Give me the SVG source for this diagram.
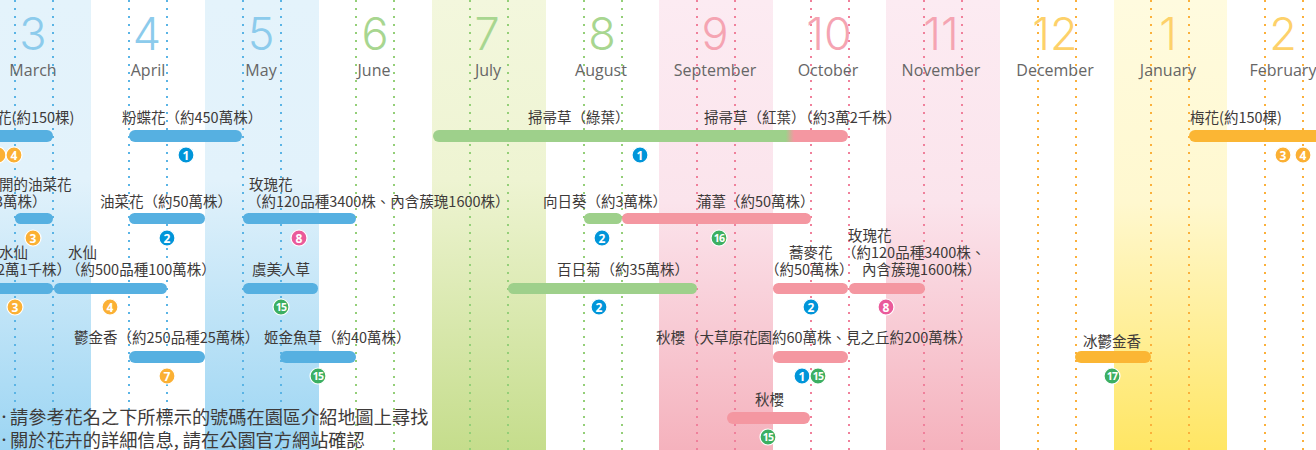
<svg xmlns="http://www.w3.org/2000/svg" width="1316" height="450" viewBox="0 0 1316 450">
<style>
.lb{font-family:"Noto Sans CJK TC","Noto Sans CJK JP",sans-serif;font-size:14.5px;fill:#3e3a39}
.ft{font-family:"Noto Sans CJK TC","Noto Sans CJK JP",sans-serif;font-size:18.2px;fill:#3e3a39}
.bu{font-family:"Noto Sans CJK TC","Noto Sans CJK JP",sans-serif;font-size:12px;fill:#3e3a39}
.mn{font-family:"Open Sans","Noto Sans",sans-serif;font-size:16px;fill:#666;text-anchor:middle}
.num{font-family:Inter,"Open Sans",sans-serif;font-weight:300;font-size:45px;text-anchor:middle}
.nb{fill:#8ccbec}.ng{fill:#a8d690}.np{fill:#f5a4b2}.no{fill:#fdd16a}
.b{fill:#56b0e1}.g{fill:#9ed08b}.p{fill:#f497a1}.o{fill:#fbb634}
.cb{fill:#0095d9}.co{fill:#fbb034}.cg{fill:#3caf62}.cp{fill:#ea5a9a}
.c{stroke:#fff;stroke-width:1.2}
.bt{font-family:"Open Sans","Noto Sans",sans-serif;font-weight:bold;font-size:12px;fill:#fff;text-anchor:middle}
.bt2{font-family:"Open Sans","Noto Sans",sans-serif;font-weight:bold;font-size:10.5px;letter-spacing:-0.8px;fill:#fff;text-anchor:middle}
.dl{stroke-width:2;stroke-dasharray:2 6;fill:none}
.dB{stroke:#5ab4e5}.dG{stroke:#94cf78}.dP{stroke:#f0809b}.dO{stroke:#fbb03b}
</style>
<defs>
<linearGradient id="gBlue" x1="0" y1="0" x2="0" y2="450" gradientUnits="userSpaceOnUse">
<stop offset="0" stop-color="#e4f3fb"/><stop offset="0.4" stop-color="#e2f2fb"/><stop offset="1" stop-color="#9cd5f3"/>
</linearGradient>
<linearGradient id="gGreen" x1="0" y1="0" x2="0" y2="450" gradientUnits="userSpaceOnUse">
<stop offset="0" stop-color="#f3f7dd"/><stop offset="0.4" stop-color="#eef4d2"/><stop offset="1" stop-color="#c5dd8c"/>
</linearGradient>
<linearGradient id="gPink" x1="0" y1="0" x2="0" y2="450" gradientUnits="userSpaceOnUse">
<stop offset="0" stop-color="#fcebf2"/><stop offset="0.45" stop-color="#fbe4ec"/><stop offset="1" stop-color="#f5b2bd"/>
</linearGradient>
<linearGradient id="gYel" x1="0" y1="0" x2="0" y2="450" gradientUnits="userSpaceOnUse">
<stop offset="0" stop-color="#fffbdf"/><stop offset="0.45" stop-color="#fff8cf"/><stop offset="1" stop-color="#ffe664"/>
</linearGradient>
<linearGradient id="gGP" x1="433" y1="0" x2="848" y2="0" gradientUnits="userSpaceOnUse">
<stop offset="0" stop-color="#9ed08b"/><stop offset="0.85" stop-color="#9ed08b"/><stop offset="0.87" stop-color="#f497a1"/><stop offset="1" stop-color="#f497a1"/>
</linearGradient>
</defs>
<rect width="1316" height="450" fill="#fff"/>
<g id="bands">
<rect x="0" y="0" width="91" height="450" fill="url(#gBlue)"/>
<rect x="205" y="0" width="114" height="450" fill="url(#gBlue)"/>
<rect x="432" y="0" width="114" height="450" fill="url(#gGreen)"/>
<rect x="659" y="0" width="114" height="450" fill="url(#gPink)"/>
<rect x="886" y="0" width="114" height="450" fill="url(#gPink)"/>
<rect x="1114" y="0" width="113" height="450" fill="url(#gYel)"/>
</g>
<g id="gridlines">
<path class="dl dB" d="M15 0V450M53 0V450M129 0V450M167 0V450M243 0V450M281 0V450"/>
<path class="dl dG" d="M356 0V450M394 0V450M470 0V450M508 0V450M584 0V450M622 0V450"/>
<path class="dl dP" d="M697 0V450M735 0V450M811 0V450M849 0V450M924 0V450M962 0V450"/>
<path class="dl dO" d="M1038 0V450M1076 0V450M1151 0V450M1189 0V450M1265 0V450M1303 0V450"/>
</g>
<g id="months">
<text class="num nb" x="33" y="50">3</text><text class="mn" x="33" y="76">March</text>
<text class="num nb" x="147" y="50">4</text><text class="mn" x="148" y="76">April</text>
<text class="num nb" x="261" y="50">5</text><text class="mn" x="261" y="76">May</text>
<text class="num ng" x="375" y="50">6</text><text class="mn" x="374" y="76">June</text>
<text class="num ng" x="487" y="50">7</text><text class="mn" x="488" y="76">July</text>
<text class="num ng" x="602" y="50">8</text><text class="mn" x="601" y="76">August</text>
<text class="num np" x="715" y="50">9</text><text class="mn" x="715" y="76">September</text>
<text class="num np" x="829" y="50">10</text><text class="mn" x="828" y="76">October</text>
<text class="num np" x="941" y="50">11</text><text class="mn" x="941" y="76">November</text>
<text class="num no" x="1055" y="50">12</text><text class="mn" x="1055" y="76">December</text>
<text class="num no" x="1168" y="50">1</text><text class="mn" x="1168" y="76">January</text>
<text class="num no" x="1283" y="50">2</text><text class="mn" x="1283" y="76">February</text>
</g>
<g id="connectors"/>
<g id="ume-left">
<text class="lb" x="-3" y="123">花(約150棵)</text>
<rect class="b" x="-10" y="130" width="63" height="12" rx="6"/>
<circle class="co c" cx="-2" cy="155" r="8"/>
<circle class="co c" cx="14" cy="155" r="8"/><text class="bt" x="14" y="159.5">4</text>
</g>
<g id="nemophila">
<text class="lb" x="122" y="123">粉蝶花（約450萬株）</text>
<rect class="b" x="129" y="130" width="113" height="12" rx="6"/>
<circle class="cb c" cx="186" cy="155" r="8"/><text class="bt" x="186" y="159.5">1</text>
</g>
<g id="kochia">
<text class="lb" x="528" y="123">掃帚草（綠葉）</text>
<text class="lb" x="704" y="123">掃帚草（紅葉）（約3萬2千株）</text>
<rect x="433" y="130" width="415" height="12" rx="6" fill="url(#gGP)"/>
<circle class="cb c" cx="640" cy="155" r="8"/><text class="bt" x="640" y="159.5">1</text>
</g>
<g id="ume">
<text class="lb" x="1190" y="123">梅花(約150棵)</text>
<rect class="o" x="1189" y="130" width="140" height="12" rx="6"/>
<circle class="co c" cx="1283" cy="155" r="8"/><text class="bt" x="1283" y="159.5">3</text>
<circle class="co c" cx="1303" cy="155" r="8"/><text class="bt" x="1303" y="159.5">4</text>
</g>
<g id="early-rape">
<text class="lb" x="-1" y="190">開的油菜花</text>
<text class="lb" x="-5" y="207">3萬株）</text>
<rect class="b" x="15" y="213" width="38" height="11" rx="5.5"/>
<circle class="co c" cx="33" cy="238" r="8"/><text class="bt" x="33" y="242.5">3</text>
</g>
<g id="rape">
<text class="lb" x="100" y="207">油菜花（約50萬株）</text>
<rect class="b" x="129" y="213" width="76" height="11" rx="5.5"/>
<circle class="cb c" cx="167" cy="238" r="8"/><text class="bt" x="167" y="242.5">2</text>
</g>
<g id="rose-spring">
<text class="lb" x="249" y="190">玫瑰花</text>
<text class="lb" x="247" y="207">（約120品種3400株、內含蔟瑰1600株）</text>
<rect class="b" x="243" y="213" width="113" height="11" rx="5.5"/>
<circle class="cp c" cx="299" cy="238" r="8"/><text class="bt" x="299" y="242.5">8</text>
</g>
<g id="sunflower">
<text class="lb" x="543" y="207">向日葵（約3萬株）</text>
<rect class="g" x="584" y="213" width="38" height="11" rx="5.5"/>
<circle class="cb c" cx="602" cy="238" r="8"/><text class="bt" x="602" y="242.5">2</text>
</g>
<g id="pampas">
<text class="lb" x="697" y="207">蒲葦（約50萬株）</text>
<rect class="p" x="622" y="213" width="189" height="11" rx="5.5"/>
<circle class="cg c" cx="719" cy="238" r="8"/><text class="bt2" x="719" y="242">16</text>
</g>
<g id="narcissus-left">
<text class="lb" x="-1" y="258">水仙</text>
<text class="lb" x="-3" y="275">2萬1千株）</text>
<rect class="b" x="-10" y="283" width="63" height="11" rx="5.5"/>
<circle class="co c" cx="15" cy="307" r="8"/><text class="bt" x="15" y="311.5">3</text>
</g>
<g id="narcissus">
<text class="lb" x="68" y="258">水仙</text>
<text class="lb" x="66" y="275">（約500品種100萬株）</text>
<rect class="b" x="54" y="283" width="113" height="11" rx="5.5"/>
<circle class="co c" cx="110" cy="307" r="8"/><text class="bt" x="110" y="311.5">4</text>
</g>
<g id="poppy">
<text class="lb" x="252" y="275">虞美人草</text>
<rect class="b" x="243" y="283" width="75" height="11" rx="5.5"/>
<circle class="cg c" cx="281" cy="307" r="8"/><text class="bt2" x="281" y="311">15</text>
</g>
<g id="zinnia">
<text class="lb" x="557" y="275">百日菊（約35萬株）</text>
<rect class="g" x="508" y="283" width="189" height="11" rx="5.5"/>
<circle class="cb c" cx="599" cy="307" r="8"/><text class="bt" x="599" y="311.5">2</text>
</g>
<g id="buckwheat">
<text class="lb" x="789" y="258">蕎麥花</text>
<text class="lb" x="765" y="275">（約50萬株）</text>
<rect class="p" x="773" y="283" width="75" height="11" rx="5.5"/>
<circle class="cb c" cx="811" cy="307" r="8"/><text class="bt" x="811" y="311.5">2</text>
</g>
<g id="rose-autumn">
<text class="lb" x="848" y="241">玫瑰花</text>
<text class="lb" x="842" y="258">（約120品種3400株、</text>
<text class="lb" x="862" y="275">內含蔟瑰1600株）</text>
<rect class="p" x="849" y="283" width="76" height="11" rx="5.5"/>
<circle class="cp c" cx="886" cy="307" r="8"/><text class="bt" x="886" y="311.5">8</text>
</g>
<g id="tulip">
<text class="lb" x="74" y="343">鬱金香（約250品種25萬株）</text>
<rect class="b" x="129" y="351" width="76" height="12" rx="6"/>
<circle class="co c" cx="167" cy="376" r="8"/><text class="bt" x="167" y="380.5">7</text>
</g>
<g id="linaria">
<text class="lb" x="264" y="343">姬金魚草（約40萬株）</text>
<rect class="b" x="280" y="351" width="76" height="12" rx="6"/>
<circle class="cg c" cx="318" cy="376" r="8"/><text class="bt2" x="318" y="380">15</text>
</g>
<g id="cosmos">
<text class="lb" x="656" y="343">秋櫻（大草原花園約60萬株、見之丘約200萬株）</text>
<rect class="p" x="773" y="351" width="75" height="12" rx="6"/>
<circle class="cb c" cx="802" cy="376" r="8"/><text class="bt" x="802" y="380.5">1</text>
<circle class="cg c" cx="818" cy="376" r="8"/><text class="bt2" x="818" y="380">15</text>
</g>
<g id="ice-tulip">
<text class="lb" x="1083" y="347">冰鬱金香</text>
<rect class="o" x="1075" y="351" width="76" height="12" rx="6"/>
<circle class="cg c" cx="1112" cy="376" r="8"/><text class="bt2" x="1112" y="380">17</text>
</g>
<g id="cosmos-2">
<text class="lb" x="755" y="405">秋櫻</text>
<rect class="p" x="727" y="412" width="83" height="12" rx="6"/>
<circle class="cg c" cx="768" cy="437" r="8"/><text class="bt2" x="768" y="441">15</text>
</g>
<g id="notes">
<text class="bu" x="-2" y="422">•</text>
<text class="ft" x="10" y="424">請參考花名之下所標示的號碼在園區介紹地圖上尋找</text>
<text class="bu" x="-2" y="445">•</text>
<text class="ft" x="10" y="447">關於花卉的詳細信息, 請在公園官方網站確認</text>
</g>
</svg>
